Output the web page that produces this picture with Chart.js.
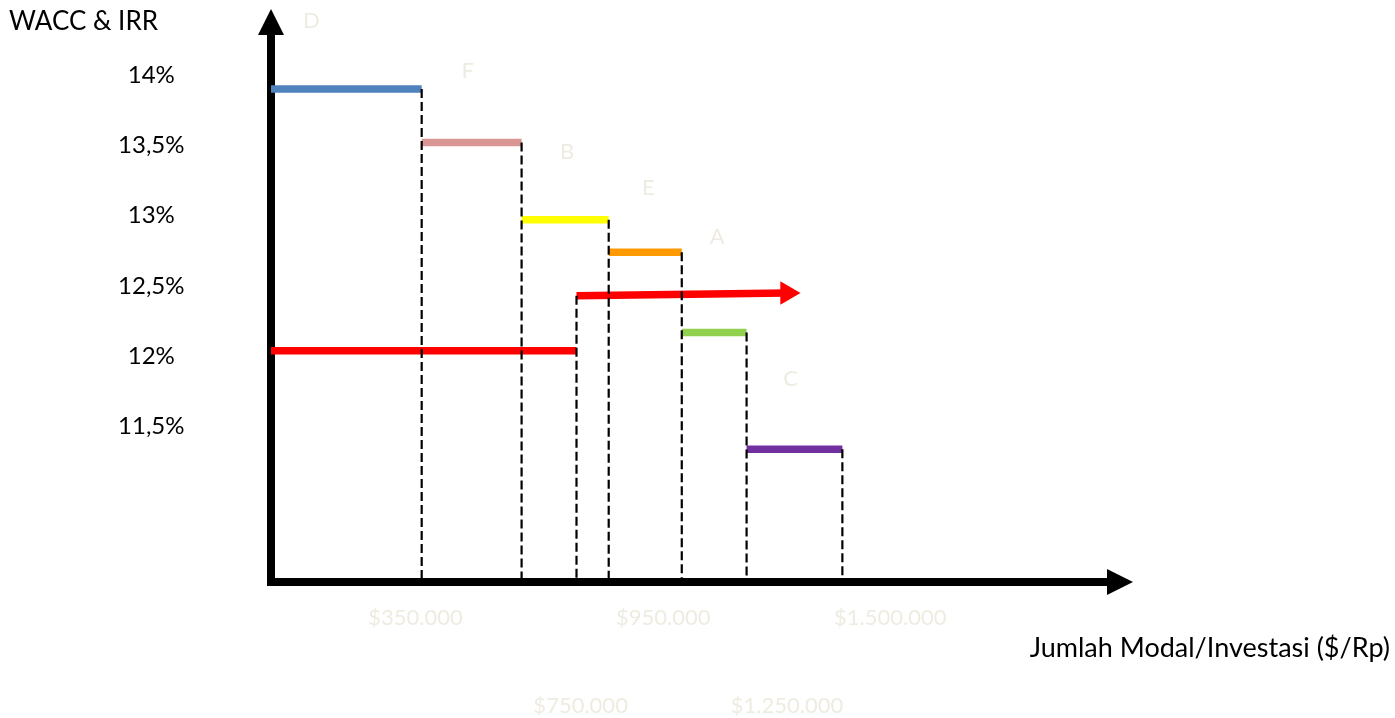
<!DOCTYPE html>
<html>
<head>
<meta charset="utf-8">
<script src="https://cdn.jsdelivr.net/npm/chart.js@4.4.1/dist/chart.umd.min.js"></script>
<style>
  html, body { margin: 0; padding: 0; background: #ffffff; }
  canvas { display: block; }
</style>
</head>
<body>
<canvas id="chart" width="1395" height="718"></canvas>
<script>
// ---------------- data ----------------
const projects = ['D', 'F', 'B', 'E', 'A', 'C'];
const investmentBounds = [0, 365, 607, 818, 995, 1152, 1384];   // cumulative capital, $ thousands
const projectIRR = [13.90, 13.52, 12.97, 12.74, 12.17, 11.34];  // %
const waccBreaks = [0, 740, 1250];                               // $ thousands
const waccStart = [12.04, 12.43];                                // %
const waccEnd = [12.04, 12.45];                                  // %
const xTickValues = [350, 750, 950, 1250, 1500];
const xTickLabels = ['$350.000', '$750.000', '$950.000', '$1.250.000', '$1.500.000'];
const yTickValues = [14, 13.5, 13, 12.5, 12, 11.5];
const yTickLabels = ['14%', '13,5%', '13%', '12,5%', '12%', '11,5%'];

// ---------------- styles ----------------
const projectColors = ['#4F81BD', '#D99694', '#FFFF00', '#FF9900', '#92D050', '#7030A0'];
const waccColor = '#FF0000';
const faint = '#EEECE1';
const FONT = 'Lato, "Open Sans", sans-serif';
const Y_MIN = 10.396, Y_MAX = 14.284, X_MIN = 0, X_MAX = 2025;

// ---------------- datasets ----------------
const datasets = [];

// dashed drop lines (drawn on top)
projects.forEach((p, i) => {
  datasets.push({
    data: [{x: investmentBounds[i + 1], y: projectIRR[i]}, {x: investmentBounds[i + 1], y: Y_MIN}],
    borderColor: '#000000', borderWidth: 2.2, borderDash: [9, 4], pointRadius: 0, order: 0
  });
});
datasets.push({
  data: [{x: waccBreaks[1], y: waccStart[1]}, {x: waccBreaks[1], y: Y_MIN}],
  borderColor: '#000000', borderWidth: 2.2, borderDash: [9, 4], pointRadius: 0, order: 0
});

// project IRR steps
projects.forEach((p, i) => {
  datasets.push({
    label: p,
    data: [{x: investmentBounds[i], y: projectIRR[i]}, {x: investmentBounds[i + 1], y: projectIRR[i]}],
    borderColor: projectColors[i], borderWidth: 7.5, pointRadius: 0, order: 1
  });
});

// WACC (red) steps, the last one ends with an arrow head
datasets.push({
  label: 'WACC 1',
  data: [{x: waccBreaks[0], y: waccStart[0]}, {x: waccBreaks[1], y: waccEnd[0]}],
  borderColor: waccColor, borderWidth: 7.5, pointRadius: 0, order: 1
});
datasets.push({
  label: 'WACC 2',
  data: [{x: waccBreaks[1], y: waccStart[1]}, {x: waccBreaks[2], y: waccEnd[1]}],
  borderColor: waccColor, borderWidth: 7.5, order: 1,
  pointStyle: 'triangle', pointRotation: 90, pointRadius: [0, 13.5],
  pointBackgroundColor: waccColor, pointBorderColor: waccColor, pointBorderWidth: 0
});

// ---------------- plugins ----------------
const axisArrows = {
  id: 'axisArrows',
  afterDraw(chart, args, opts) {
    const {ctx, chartArea} = chart;
    const cx = Math.round(chartArea.left);
    const cy = Math.round(chartArea.bottom);
    ctx.save();
    ctx.fillStyle = opts.color;
    ctx.beginPath();
    ctx.moveTo(cx - opts.half, chartArea.top);
    ctx.lineTo(cx + opts.half, chartArea.top);
    ctx.lineTo(cx, chartArea.top - opts.len);
    ctx.closePath();
    ctx.fill();
    ctx.beginPath();
    ctx.moveTo(chartArea.right, cy - opts.half);
    ctx.lineTo(chartArea.right, cy + opts.half);
    ctx.lineTo(chartArea.right + opts.len, cy);
    ctx.closePath();
    ctx.fill();
    ctx.restore();
  }
};

const projectLetters = {
  id: 'projectLetters',
  afterDatasetsDraw(chart, args, opts) {
    const {ctx} = chart;
    const xs = chart.scales.x, ys = chart.scales.y;
    ctx.save();
    ctx.fillStyle = opts.color;
    ctx.font = opts.font;
    ctx.textAlign = 'center';
    ctx.textBaseline = 'middle';
    projects.forEach((p, i) => {
      const mid = (investmentBounds[i] + investmentBounds[i + 1]) / 2;
      const off = opts.offsets[i];
      ctx.fillText(p, xs.getPixelForValue(mid) + off[0], ys.getPixelForValue(projectIRR[i]) + off[1]);
    });
    ctx.restore();
  }
};

const noPad = s => { s.paddingTop = 0; s.paddingBottom = 0; };

// ---------------- chart ----------------
new Chart(document.getElementById('chart'), {
  type: 'line',
  data: {datasets},
  plugins: [axisArrows, projectLetters],
  options: {
    responsive: false,
    animation: false,
    events: [],
    layout: {padding: {left: 9, right: 5, top: 0, bottom: 0}},
    plugins: {
      legend: {display: false},
      tooltip: {enabled: false},
      title: {
        display: true, text: 'WACC & IRR', align: 'start', color: '#000000',
        font: {family: FONT, size: 26, weight: 'normal', lineHeight: 1}, padding: {top: 9, bottom: 0}
      },
      subtitle: {
        display: true, position: 'bottom', align: 'end', text: 'Jumlah Modal/Investasi ($/Rp)', color: '#000000',
        font: {family: FONT, size: 27, weight: 'normal'}, padding: {top: 0, bottom: 0}
      },
      axisArrows: {color: '#000000', half: 13, len: 26},
      projectLetters: {
        color: faint, font: '22px ' + FONT,
        offsets: [[-35, -68], [-4, -72], [2, -68], [3, -64], [3, -96], [-4, -70]]
      }
    },
    scales: {
      x: {
        type: 'linear', position: 'bottom', min: X_MIN, max: X_MAX, z: 1,
        grid: {display: false, drawTicks: false},
        border: {display: true, color: '#000000', width: 8},
        afterBuildTicks: s => { s.ticks = xTickValues.filter((v, i) => i % 2 === 0).map(v => ({value: v})); },
        afterFit: s => { s.height = 50; },
        ticks: {
          autoSkip: false, maxRotation: 0, minRotation: 0, padding: 22.8, color: faint,
          font: {family: FONT, size: 22},
          callback: v => xTickLabels[xTickValues.indexOf(v)]
        }
      },
      x2: {
        type: 'linear', position: 'bottom', min: X_MIN, max: X_MAX, weight: 1600,
        grid: {display: false, drawTicks: false},
        border: {display: false},
        afterBuildTicks: s => { s.ticks = xTickValues.filter((v, i) => i % 2 === 1).map(v => ({value: v})); },
        afterFit: s => { s.height = 53.6; },
        ticks: {
          autoSkip: false, maxRotation: 0, minRotation: 0, padding: 28.4, color: faint,
          font: {family: FONT, size: 22},
          callback: v => xTickLabels[xTickValues.indexOf(v)]
        }
      },
      y: {
        type: 'linear', position: 'left', min: Y_MIN, max: Y_MAX, z: 1,
        grid: {display: false, drawTicks: false},
        border: {display: true, color: '#000000', width: 8},
        afterBuildTicks: s => { s.ticks = yTickValues.map(v => ({value: v})); },
        afterFit: s => { s.width = 262; noPad(s); },
        ticks: {
          crossAlign: 'center', padding: 86.5, color: '#000000',
          font: {family: FONT, size: 24},
          callback: v => yTickLabels[yTickValues.indexOf(v)]
        }
      },
      yRight: {
        type: 'linear', position: 'right', min: 0, max: 1, display: true,
        grid: {display: false, drawTicks: false},
        border: {display: false},
        ticks: {display: false},
        afterFit: s => { s.width = 283; noPad(s); }
      }
    }
  }
});
</script>
</body>
</html>
